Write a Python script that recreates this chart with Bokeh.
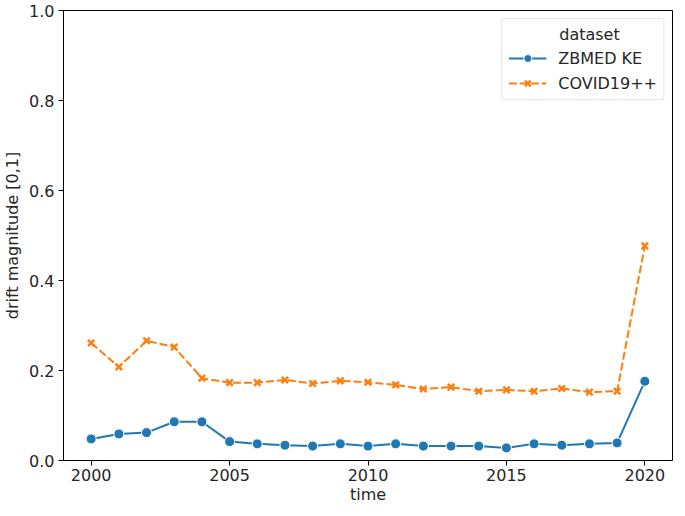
from bokeh.plotting import figure
from bokeh.models import Range1d, FixedTicker, NumeralTickFormatter, Legend, LegendItem
from bokeh.embed import file_html
from bokeh.resources import INLINE

years = list(range(2000, 2021))
zbmed_ke = [0.048, 0.059, 0.062, 0.086, 0.086, 0.042, 0.037, 0.034, 0.032, 0.037, 0.032,
            0.037, 0.032, 0.032, 0.032, 0.028, 0.037, 0.034, 0.037, 0.039, 0.176]
covid19pp = [0.261, 0.208, 0.266, 0.252, 0.183, 0.173, 0.173, 0.179, 0.171, 0.177, 0.174,
             0.168, 0.159, 0.163, 0.154, 0.157, 0.154, 0.160, 0.152, 0.154, 0.477]
x_ticks = [2000, 2005, 2010, 2015, 2020]
y_ticks = [0.0, 0.2, 0.4, 0.6, 0.8, 1.0]

FONT = "DejaVu Sans"
FS = "16px"
BLUE = "#1f77b4"
ORANGE = "#ff7f0e"

p = figure(width=675, height=506, output_backend="svg", toolbar_location=None,
           x_range=Range1d(1999, 2021), y_range=Range1d(0, 1),
           min_border_left=58, min_border_right=3, min_border_top=10, min_border_bottom=44)
p.background_fill_color = "white"
p.border_fill_color = "white"
p.outline_line_color = "black"
p.outline_line_width = 1
p.grid.visible = False

for ax in (p.xaxis[0], p.yaxis[0]):
    ax.major_tick_out = 5
    ax.major_tick_in = 0
    ax.minor_tick_line_color = None
    ax.major_label_text_font = FONT
    ax.major_label_text_font_size = FS
    ax.major_label_text_color = "#262626"
    ax.axis_label_text_font = FONT
    ax.axis_label_text_font_size = FS
    ax.axis_label_text_font_style = "normal"
    ax.axis_label_text_color = "#262626"
    ax.axis_line_color = "black"
    ax.major_tick_line_color = "black"

p.xaxis.ticker = FixedTicker(ticks=x_ticks)
p.yaxis.ticker = FixedTicker(ticks=y_ticks)
p.yaxis.formatter = NumeralTickFormatter(format="0.0")
p.xaxis.axis_label = "time"
p.yaxis.axis_label = "drift magnitude [0,1]"
p.xaxis.major_label_standoff = 3
p.yaxis.major_label_standoff = 4
p.xaxis.axis_label_standoff = 1
p.yaxis.axis_label_standoff = 4

l1 = p.line(years, zbmed_ke, line_color=BLUE, line_width=2)
m1 = p.scatter(years, zbmed_ke, marker="circle", size=10, fill_color=BLUE,
               line_color="white", line_width=1)
l2 = p.line(years, covid19pp, line_color=ORANGE, line_width=2, line_dash="8 3")
m2 = p.scatter(years, covid19pp, marker="x", size=9, line_color=ORANGE, line_width=2.5)

legend = Legend(items=[LegendItem(label="ZBMED KE", renderers=[l1, m1]),
                       LegendItem(label="COVID19++", renderers=[l2, m2])],
                location="top_right")
legend.title = "\u00a0" * 10 + "dataset"
legend.title_text_font = FONT
legend.title_text_font_size = FS
legend.title_text_font_style = "normal"
legend.title_text_color = "#262626"
legend.title_standoff = 4
legend.label_text_font = FONT
legend.label_text_font_size = FS
legend.label_text_color = "#262626"
legend.border_line_color = "#cccccc"
legend.border_line_width = 1
legend.border_radius = 3
legend.background_fill_alpha = 0.8
legend.glyph_width = 38
legend.glyph_height = 20
legend.label_standoff = 12
legend.label_height = 20
legend.padding = 6
legend.spacing = 5
legend.margin = 8
p.add_layout(legend)

open("out.html", "w").write(file_html(p, INLINE))
